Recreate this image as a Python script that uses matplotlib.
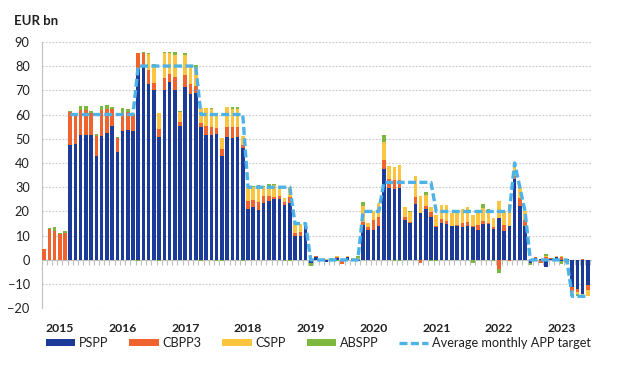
import numpy as np
import matplotlib
matplotlib.use("Agg")
import matplotlib.pyplot as plt

plt.rcParams['font.family'] = ['Lato', 'DejaVu Sans']

# Monthly net purchases, Oct 2014 .. Jun 2023 (EUR bn)
pspp = [0, 0, 0, 0, 0,
        47.5, 47.9, 51.7, 51.6, 51.5, 43.0, 51.0, 52.3, 55.4, 44.4,
        53.0, 53.7, 53.3, 78.8, 80.0, 72.5, 70.0, 50.7, 70.2, 73.3, 70.2, 55.4,
        71.4, 68.6, 68.9, 54.7, 51.7, 51.7, 52.1, 43.0, 50.9, 50.5, 50.9, 46.1,
        20.9, 21.8, 20.7, 23.6, 24.3, 25.0, 25.1, 22.6, 23.4, 9.9, 10.0, 13.8,
        -1.3, 1.3, -0.2, -0.7, 0.2, 0.8, -0.3, 1.1, 0.3, -0.3, 14.5, 12.5,
        12.4, 14.0, 37.5, 29.8, 29.2, 29.8, 16.4, 15.2, 23.1, 19.3, 21.1, 17.9,
        13.5, 15.2, 14.9, 14.0, 14.0, 13.5, 14.0, 13.4, 12.4, 14.9, 14.9, 12.9,
        17.2, 12.1, 14.0, 33.5, 22.3, 13.8, -1.1, 0.9, 0.3, -3.0, 0.3, 1.2,
        -0.3, 0.3, -11.0, -12.0, -14.1, -10.3]
cbpp3 = [4.7, 12.9, 12.0, 10.6, 11.0,
         13.4, 12.0, 10.3, 10.3, 9.2, 8.0, 10.7, 9.9, 6.9, 6.1,
         7.6, 7.2, 6.6, 6.6, 5.5, 6.0, 3.2, 3.4, 4.8, 3.4, 5.2, 1.4,
         4.8, 4.1, 2.8, 1.8, 3.6, 3.2, 2.3, 2.8, 4.1, 4.3, 4.1, 1.4,
         3.6, 3.1, 3.0, 2.8, 2.0, 0.8, 1.4, 1.4, 2.5, 1.4, 1.4, 0.3,
         0, 0.2, 0.1, 0.1, -0.2, 0.5, -1.5, 0.3, 0.1, 0.2, 1.2, 1.0,
         3.9, 3.6, 3.9, 3.6, 3.7, 3.2, 1.2, 0.6, 3.0, -1.1, 1.0, 1.7,
         0.3, 1.7, 1.0, 0.2, 0.3, 1.9, 1.8, 0.7, 2.1, 1.0, 0.2, 0.7,
         -3.6, 2.3, -0.6, 1.2, 3.2, 2.5, 0.2, 0.2, -1.4, 1.4, 0.3, 0.2,
         1.3, -0.4, -1.8, -1.2, 0.2, -2.2]
cspp = [0, 0, 0, 0, 0,
        0, 0, 0, 0, 0, 0, 0, 0, 0, 0,
        0, 0, 0, 0, 0, 6.6, 7.3, 6.7, 10.4, 8.7, 9.2, 4.4,
        8.3, 7.7, 8.0, 6.2, 7.2, 7.2, 6.2, 4.5, 7.9, 7.6, 7.4, 3.5,
        5.6, 5.3, 6.6, 3.7, 3.9, 5.2, 3.7, 1.5, 4.3, 4.1, 3.4, 0.8,
        0, 0, 0.3, 0.2, 0.3, 0.3, 0.3, 0.3, 0.2, 0.5, 6.5, 1.9,
        3.7, 5.8, 7.2, 5.5, 5.4, 6.2, 4.3, 4.1, 8.5, 6.9, 4.8, 2.2,
        4.9, 5.8, 6.8, 5.1, 6.3, 5.5, 6.2, 4.5, 5.5, 5.4, 4.9, 3.6,
        7.3, 5.6, 9.0, 5.3, 4.5, 3.7, 0.2, 0.2, 0.2, 0.3, 0.3, 0.3,
        0.2, 0.2, -1.6, -1.0, -0.7, -2.2]
abspp = [0, 0.4, 1.4, 0.5, 1.1,
         0.7, 0.3, 1.4, 1.6, 0.8, 1.0, 1.9, 1.8, 0.6, 0.3,
         2.1, 1.4, 0.5, -0.3, 0.2, 0.3, 0.3, -0.4, 0.3, 0.4, 1.2, 0.3,
         0.9, 0.0, 0.8, -0.4, 0.2, 0.7, -0.3, -0.3, 0.3, 0.7, 0.7, -0.4,
         0.1, 0.1, 0.5, 0.4, 1.1, 0.3, 0.0, -0.4, -0.4, 0, 0, 0,
         -1.0, 0, 0, 0, 0.2, -0.4, 0, 0, -0.2, 1.0, 1.5, 0,
         0, 0, 3.0, 0, -0.3, -0.4, 0, 0.1, 0, 0, 1.0, -0.3,
         -0.4, 0, 0, 0, 0.1, 0, 0, -1.4, 0, 1.7, 1.1, -0.3,
         -1.7, 0, 0, 0, 0, 0, -0.8, -0.2, 0, 0.6, -0.2, -0.3,
         -1.4, -0.8, -0.6, -0.6, -0.1, 0]
target = ([np.nan] * 5 + [60] * 13 + [80] * 12 + [60] * 9 + [30] * 9 + [15] * 3
          + [0] * 10 + [20] * 4 + [32] * 10 + [20] * 15 + [40, 30, 20]
          + [0] * 8 + [-15] * 4)
year_labels = ['2015', '2016', '2017', '2018', '2019', '2020', '2021', '2022', '2023']
first_january = 3  # index of Jan 2015 (series starts Oct 2014)

series = [('PSPP', pspp, '#1c3b98'),
          ('CBPP3', cbpp3, '#f0622e'),
          ('CSPP', cspp, '#fbc53f'),
          ('ABSPP', abspp, '#7cb83e')]

n = len(pspp)
x = np.arange(n)

fig = plt.figure(figsize=(6.26, 3.75), dpi=100)
ax = fig.add_axes([0.0663, 0.1776, 0.8777, 0.7109])

pos_bottom = np.zeros(n)
neg_bottom = np.zeros(n)
handles = []
for name, vals, col in series:
    v = np.array(vals, dtype=float)
    bottom = np.where(v >= 0, pos_bottom, neg_bottom)
    b = ax.bar(x, v, bottom=bottom, width=0.68, color=col, label=name,
               linewidth=0, zorder=3)
    handles.append(b)
    pos_bottom += np.where(v > 0, v, 0)
    neg_bottom += np.where(v < 0, v, 0)

ln, = ax.plot(x, target, color='#4cb2e8', lw=2.4, dashes=[2.4, 1.0],
              zorder=4, label='Average monthly APP target')
handles.append(ln)

ax.set_xlim(-0.5, n - 0.4)
ax.set_ylim(-20, 90)
ax.set_yticks(np.arange(-20, 91, 10))
ax.yaxis.grid(True, linestyle=(0, (1.5, 1.5)), color='#c8c8c8', lw=0.8, zorder=0)
ax.set_axisbelow(True)

for s in ['top', 'right']:
    ax.spines[s].set_visible(False)
ax.spines['left'].set_color('#c0c0c0')
ax.spines['left'].set_linewidth(0.8)
ax.spines['bottom'].set_position(('data', 0))
ax.spines['bottom'].set_color('#c0c0c0')
ax.spines['bottom'].set_linewidth(0.8)
ax.spines['bottom'].set_zorder(2)

ax.set_xticks(np.arange(-0.5, n, 1.0))
ax.set_xticklabels([])
ax.tick_params(axis='x', direction='out', length=3.5, color='#c0c0c0', width=0.8)
ax.tick_params(axis='y', length=0, labelsize=9.2, labelcolor='#202020', pad=8.5)
for lbl in ax.get_yticklabels():
    lbl.set_horizontalalignment('right')

trans = ax.get_xaxis_transform()
for k, yl in enumerate(year_labels):
    ax.text(first_january + 12 * k, -0.075, yl, transform=trans, ha='center',
            va='center', fontsize=8.8, fontweight='bold', color='#202020')

fig.text(0.022, 0.945, 'EUR bn', fontsize=9.5, fontweight='bold', color='#202020',
         ha='left', va='center')

leg = fig.legend(handles=handles, loc='center left', bbox_to_anchor=(0.0735, 0.085),
                 ncol=5, frameon=False, fontsize=9.2, handlelength=2.3,
                 handleheight=0.55, handletextpad=0.3, columnspacing=1.62,
                 borderaxespad=0, borderpad=0)
for t in leg.get_texts():
    t.set_color('#202020')

fig.savefig('out.png', dpi=100)
